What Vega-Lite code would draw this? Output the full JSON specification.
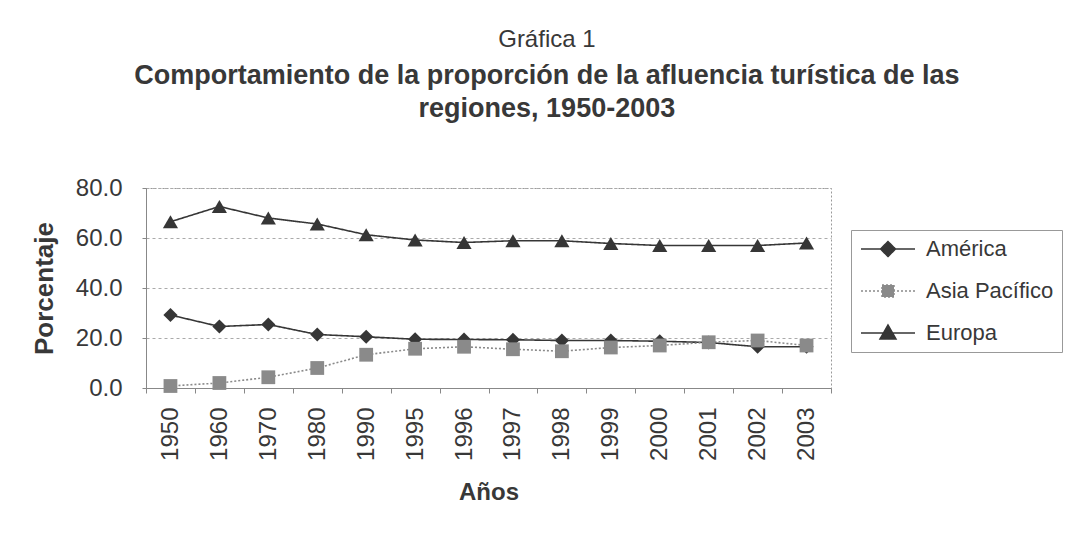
{
  "$schema": "https://vega.github.io/schema/vega-lite/v6.json",
  "width": 685,
  "height": 200,
  "padding": {"left": 31, "top": 28, "right": 8, "bottom": 10},
  "background": "white",
  "title": {
    "text": "Gráfica 1",
    "subtitle": ["Comportamiento de la proporción de la afluencia turística de las", "regiones, 1950-2003"],
    "anchor": "middle",
    "frame": "bounds",
    "font": "Liberation Sans",
    "fontSize": 24,
    "fontWeight": "normal",
    "color": "#383838",
    "subtitleFont": "Liberation Sans",
    "subtitleFontSize": 27,
    "subtitleFontWeight": "bold",
    "subtitleColor": "#383838",
    "subtitleLineHeight": 33,
    "subtitlePadding": 11,
    "offset": 54
  },
  "config": {
    "font": "Liberation Sans",
    "view": {"stroke": "#999", "strokeDash": [2, 2], "strokeWidth": 1},
    "axis": {"labelColor": "#383838", "titleColor": "#383838", "domainColor": "#888", "tickColor": "#888"}
  },
  "data": {
    "values": [
      {"year": "1950", "region": "América", "value": 29.2},
      {"year": "1960", "region": "América", "value": 24.6},
      {"year": "1970", "region": "América", "value": 25.4},
      {"year": "1980", "region": "América", "value": 21.4},
      {"year": "1990", "region": "América", "value": 20.5},
      {"year": "1995", "region": "América", "value": 19.5},
      {"year": "1996", "region": "América", "value": 19.4},
      {"year": "1997", "region": "América", "value": 19.3},
      {"year": "1998", "region": "América", "value": 19.0},
      {"year": "1999", "region": "América", "value": 19.0},
      {"year": "2000", "region": "América", "value": 18.7},
      {"year": "2001", "region": "América", "value": 18.2},
      {"year": "2002", "region": "América", "value": 16.5},
      {"year": "2003", "region": "América", "value": 16.5},
      {"year": "1950", "region": "Asia Pacífico", "value": 0.8},
      {"year": "1960", "region": "Asia Pacífico", "value": 2.0},
      {"year": "1970", "region": "Asia Pacífico", "value": 4.3},
      {"year": "1980", "region": "Asia Pacífico", "value": 8.0},
      {"year": "1990", "region": "Asia Pacífico", "value": 13.3},
      {"year": "1995", "region": "Asia Pacífico", "value": 15.7},
      {"year": "1996", "region": "Asia Pacífico", "value": 16.5},
      {"year": "1997", "region": "Asia Pacífico", "value": 15.5},
      {"year": "1998", "region": "Asia Pacífico", "value": 14.7},
      {"year": "1999", "region": "Asia Pacífico", "value": 16.2},
      {"year": "2000", "region": "Asia Pacífico", "value": 17.0},
      {"year": "2001", "region": "Asia Pacífico", "value": 18.3},
      {"year": "2002", "region": "Asia Pacífico", "value": 19.0},
      {"year": "2003", "region": "Asia Pacífico", "value": 17.0},
      {"year": "1950", "region": "Europa", "value": 66.5},
      {"year": "1960", "region": "Europa", "value": 72.6},
      {"year": "1970", "region": "Europa", "value": 68.0},
      {"year": "1980", "region": "Europa", "value": 65.6},
      {"year": "1990", "region": "Europa", "value": 61.3},
      {"year": "1995", "region": "Europa", "value": 59.2},
      {"year": "1996", "region": "Europa", "value": 58.2},
      {"year": "1997", "region": "Europa", "value": 58.9},
      {"year": "1998", "region": "Europa", "value": 58.9},
      {"year": "1999", "region": "Europa", "value": 57.8},
      {"year": "2000", "region": "Europa", "value": 57.0},
      {"year": "2001", "region": "Europa", "value": 57.0},
      {"year": "2002", "region": "Europa", "value": 57.0},
      {"year": "2003", "region": "Europa", "value": 58.0}
    ]
  },
  "encoding": {
    "x": {
      "field": "year",
      "type": "ordinal",
      "scale": {"type": "band", "paddingInner": 0, "paddingOuter": 0},
      "axis": {"title": "Años", "labelAngle": 270, "labelFontSize": 24, "titleFontSize": 24, "titleFontWeight": "bold", "labelPadding": 14, "titlePadding": 20, "grid": false, "ticks": true, "tickBand": "extent", "tickSize": 5}
    },
    "y": {
      "field": "value",
      "type": "quantitative",
      "scale": {"domain": [0, 80]},
      "axis": {"title": "Porcentaje", "values": [0, 20, 40, 60, 80], "format": ".1f", "labelFontSize": 24, "titleFontSize": 26, "titleFontWeight": "bold", "labelPadding": 20, "titlePadding": 18, "grid": true, "gridDash": [3, 3], "gridColor": "#aaa", "ticks": true, "tickSize": 4}
    }
  },
  "layer": [
    {
      "transform": [{"filter": "datum.value < 0"}],
      "mark": {"type": "point", "filled": true, "size": 400, "opacity": 1, "strokeWidth": 1.5},
      "encoding": {
        "color": {
          "field": "region",
          "type": "nominal",
          "scale": {"domain": ["América", "Asia Pacífico", "Europa"], "range": ["#363636", "#8a8a8a", "#363636"]},
          "legend": {
            "title": null,
            "orient": "none",
            "legendX": 705,
            "legendY": 42,
            "labelFontSize": 22,
            "labelColor": "#383838",
            "symbolSize": 400,
            "symbolStrokeWidth": 1.5,
            "rowPadding": 20,
            "padding": 8,
            "symbolOffset": 18,
            "labelOffset": 27,
            "strokeColor": "#999"
          }
        },
        "stroke": {
          "field": "region",
          "type": "nominal",
          "scale": {"domain": ["América", "Asia Pacífico", "Europa"], "range": ["#363636", "#8a8a8a", "#363636"]}
        },
        "strokeDash": {
          "field": "region",
          "type": "nominal",
          "scale": {"domain": ["América", "Asia Pacífico", "Europa"], "range": [[1, 0], [2, 2], [1, 0]]}
        },
        "shape": {
          "field": "region",
          "type": "nominal",
          "scale": {"domain": ["América", "Asia Pacífico", "Europa"], "range": ["M-2.7,0L2.7,0M0,-0.75L0.75,0L0,0.75L-0.75,0Z", "M-2.7,0L2.7,0M-0.6,-0.6H0.6V0.6H-0.6Z", "M-2.7,0L2.7,0M0,-0.8L0.8,0.6H-0.8Z"]}
        }
      }
    },
    {
      "mark": {"type": "line", "strokeWidth": 1.6},
      "encoding": {
        "color": {"field": "region", "type": "nominal"},
        "strokeDash": {"field": "region", "type": "nominal"}
      }
    },
    {
      "transform": [{"filter": "datum.region === 'América'"}],
      "mark": {"type": "point", "shape": "diamond", "filled": true, "size": 200, "opacity": 1},
      "encoding": {"color": {"field": "region", "type": "nominal"}}
    },
    {
      "transform": [{"filter": "datum.region === 'Asia Pacífico'"}],
      "mark": {"type": "point", "shape": "square", "filled": true, "size": 190, "opacity": 1},
      "encoding": {"color": {"field": "region", "type": "nominal"}}
    },
    {
      "transform": [{"filter": "datum.region === 'Europa'"}],
      "mark": {"type": "point", "shape": "triangle-up", "filled": true, "size": 230, "opacity": 1},
      "encoding": {"color": {"field": "region", "type": "nominal"}}
    }
  ]
}
